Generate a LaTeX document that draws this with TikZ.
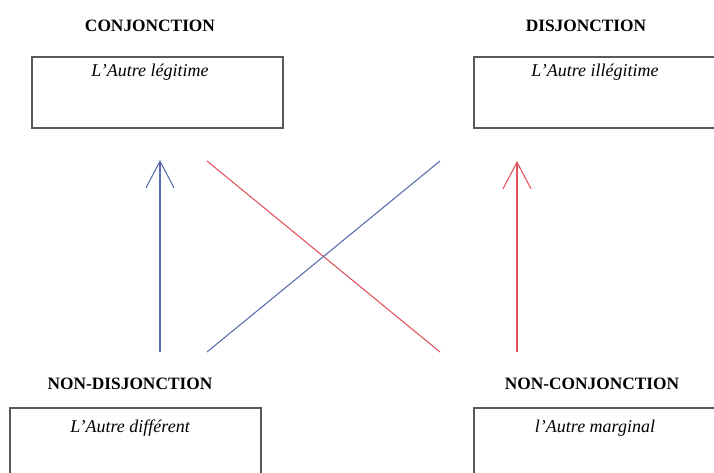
\documentclass[tikz,border=0pt]{standalone}
\usepackage{fontspec}
\setmainfont{Liberation Serif}
\usetikzlibrary{arrows.meta}
\usetikzlibrary{positioning}
\definecolor{bleu}{RGB}{88,108,172}
\definecolor{rouge}{RGB}{226,82,92}

\tikzset{
  boite/.style={draw=black!65, line width=1pt, minimum width=188.25pt, minimum height=53.25pt, inner sep=0pt},
  titre/.style={font=\fontsize{13}{15}\selectfont\bfseries, anchor=base, inner sep=0pt},
  nom/.style={font=\fontsize{13.5}{15}\selectfont\itshape, anchor=base, inner sep=0pt},
  fleche/.style={line width=0.8pt, -{Straight Barb[length=20pt, width=21pt, line width=0.8pt]}},
  trait/.style={line width=0.8pt}
}

\begin{document}
\begin{tikzpicture}[x=0.75pt, y=-0.75pt] % 1 Einheit = 1 Pixel
\useasboundingbox (0,0) rectangle (714,473);
\clip (0,0) rectangle (714,473);

% Titel und Kaesten
\node[titre] (tconj) at (150,32) {CONJONCTION};
\node[boite] (leg) at (157.5,92.5) {};
\node[nom] at (150,77) {L'Autre légitime};

\node[titre] (tdisj) at (586,32) {DISJONCTION};
\node[boite] (illeg) at (599.5,92.5) {};
\node[nom] at (595,77) {L'Autre illégitime};

\node[titre] (tnondisj) at (130,390) {NON-DISJONCTION};
\node[boite] (diff) at (135.5,443.5) {};
\node[nom] at (130,433) {L'Autre différent};

\node[titre] (tnonconj) at (592,390) {NON-CONJONCTION};
\node[boite] (marg) at (599.5,443.5) {};
\node[nom] at (595,433) {l'Autre marginal};

% Endpunkte der Linien
\coordinate (bu) at (160,352);  \coordinate (bo) at (160,160);
\coordinate (xlo) at (207,161); \coordinate (xru) at (440,352);
\coordinate (xlu) at (207,352); \coordinate (xro) at (440,161);
\coordinate (ru) at (517,352);  \coordinate (ro) at (517,161);

% Pfeile und Kreuz
\draw[fleche, bleu] (bu) -- (bo);
\draw[trait, rouge] (xlo) -- (xru);
\draw[trait, bleu] (xlu) -- (xro);
\draw[fleche, rouge] (ru) -- (ro);

\end{tikzpicture}
\end{document}
